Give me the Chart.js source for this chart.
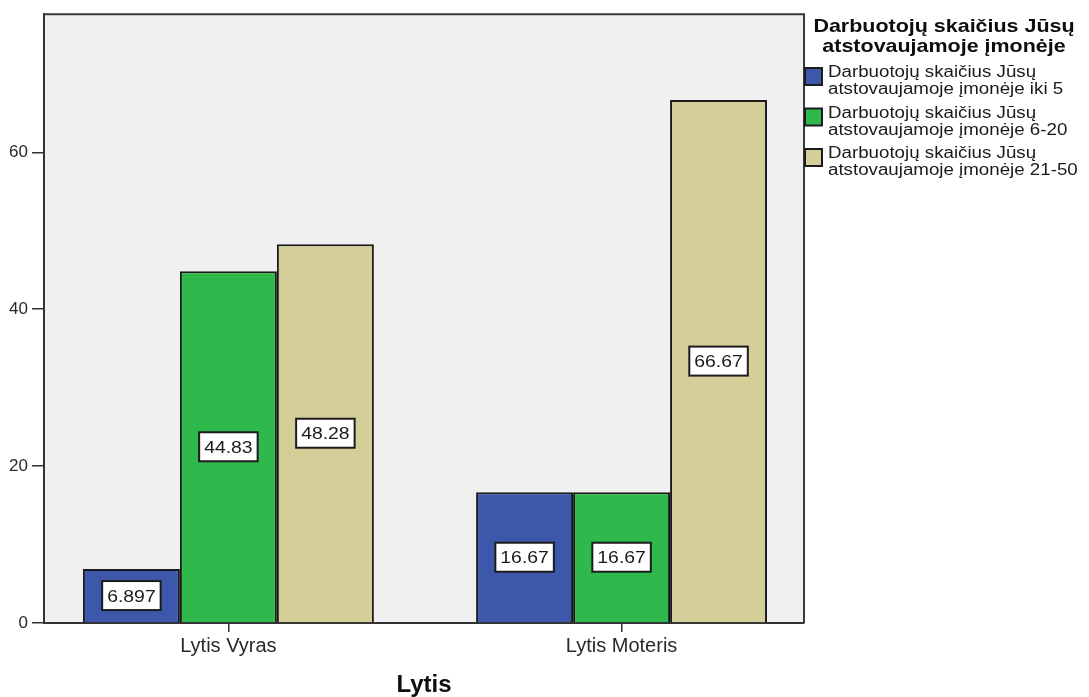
<!DOCTYPE html>
<html lang="lt">
<head>
<meta charset="utf-8">
<title>Lytis</title>
<script src="https://cdn.jsdelivr.net/npm/chart.js@4/dist/chart.umd.min.js"></script>
<style>
  html, body { margin: 0; padding: 0; background: #ffffff; }
  #wrap { width: 1089px; height: 697px; }
</style>
</head>
<body>
<div id="wrap"><canvas id="chart" width="1089" height="697"></canvas></div>
<script>
// Categories (gender) and group values, in percent
const categories = ['Lytis Vyras', 'Lytis Moteris'];
const legendTitle = ['Darbuotojų skaičius Jūsų', 'atstovaujamoje įmonėje'];
const seriesNames = [
  ['Darbuotojų skaičius Jūsų', 'atstovaujamoje įmonėje iki 5'],
  ['Darbuotojų skaičius Jūsų', 'atstovaujamoje įmonėje 6-20'],
  ['Darbuotojų skaičius Jūsų', 'atstovaujamoje įmonėje 21-50']
];
const valuesUpTo5 = [6.897, 16.67];
const values6to20 = [44.83, 16.67];
const values21to50 = [48.28, 66.67];
const seriesColors = ['#3d57aa', '#2fb84b', '#d4cf98'];
const yTicks = [0, 20, 40, 60];
const xAxisTitle = 'Lytis';

const FONT = '"Liberation Sans", Arial, sans-serif';

function toPoints(values) {
  return values.map((v, i) => ({ x: i, y: v }));
}

// Draw text squeezed/stretched horizontally around its anchor
function drawScaledText(ctx, text, x, y, size, weight, sx, align, color) {
  ctx.save();
  ctx.font = weight + ' ' + size + 'px ' + FONT;
  ctx.fillStyle = color;
  ctx.textAlign = align;
  ctx.textBaseline = 'alphabetic';
  ctx.translate(x, y);
  ctx.scale(sx, 1);
  ctx.fillText(text, 0, 0);
  ctx.restore();
}

// Light grey plot background and frame
const plotFrame = {
  id: 'plotFrame',
  beforeDraw(chart) {
    const { ctx, chartArea: a } = chart;
    ctx.save();
    ctx.fillStyle = '#f0f0f0';
    ctx.fillRect(a.left, a.top, a.right - a.left, a.bottom - a.top);
    ctx.restore();
  },
  afterDraw(chart) {
    const { ctx, chartArea: a } = chart;
    ctx.save();
    ctx.strokeStyle = '#3a3a3a';
    ctx.lineWidth = 2;
    ctx.beginPath();
    ctx.moveTo(a.left, a.top);
    ctx.lineTo(a.right, a.top);
    ctx.lineTo(a.right, a.bottom);
    ctx.stroke();
    ctx.restore();
  }
};

// Value boxes in the middle of every bar
const valueBoxes = {
  id: 'valueBoxes',
  afterDatasetsDraw(chart) {
    const ctx = chart.ctx;
    const size = 17, sx = 1.14;
    chart.data.datasets.forEach((ds, di) => {
      const meta = chart.getDatasetMeta(di);
      meta.data.forEach((bar, i) => {
        const text = String(ds.data[i].y);
        ctx.save();
        ctx.font = size + 'px ' + FONT;
        const w = ctx.measureText(text).width * sx + 10;
        const h = 29;
        const cx = bar.x;
        const cy = (bar.y + bar.base) / 2;
        ctx.fillStyle = '#ffffff';
        ctx.fillRect(cx - w / 2, cy - h / 2, w, h);
        ctx.strokeStyle = '#1c1c1c';
        ctx.lineWidth = 2;
        ctx.strokeRect(cx - w / 2, cy - h / 2, w, h);
        ctx.restore();
        drawScaledText(ctx, text, cx, cy + 6, size, 'normal', sx, 'center', '#1a1a1a');
      });
    });
  }
};

// Legend at the right: two-line bold title, then swatches with wrapped names
const sideLegend = {
  id: 'sideLegend',
  afterDraw(chart) {
    const ctx = chart.ctx;
    const cx = 944;
    legendTitle.forEach((line, k) => {
      drawScaledText(ctx, line, cx, 32 + k * 20, 18.5, 'bold', 1.16, 'center', '#0d0d0d');
    });
    chart.data.datasets.forEach((ds, i) => {
      const top = 68 + i * 40.5;
      ctx.save();
      ctx.fillStyle = ds.backgroundColor;
      ctx.fillRect(805, top, 17, 17);
      ctx.strokeStyle = '#1c1c1c';
      ctx.lineWidth = 2;
      ctx.strokeRect(805, top, 17, 17);
      ctx.restore();
      seriesNames[i].forEach((line, k) => {
        drawScaledText(ctx, line, 828, top + 9 + k * 17, 16, 'normal', 1.17, 'left', '#1a1a1a');
      });
    });
  }
};

const datasets = [valuesUpTo5, values6to20, values21to50].map((vals, i) => ({
  label: seriesNames[i].join(' '),
  data: toPoints(vals),
  backgroundColor: seriesColors[i],
  borderColor: '#1a1a1a',
  borderWidth: 2,
  categoryPercentage: 0.74,
  barPercentage: 1.0
}));

new Chart(document.getElementById('chart'), {
  type: 'bar',
  data: { datasets },
  plugins: [plotFrame, valueBoxes, sideLegend],
  options: {
    responsive: false,
    animation: false,
    devicePixelRatio: 1,
    layout: { padding: { top: 13, right: 285, left: 0, bottom: 0 } },
    plugins: {
      legend: { display: false },
      tooltip: { enabled: false }
    },
    scales: {
      x: {
        type: 'linear',
        offset: false,
        min: -0.469,
        max: 1.464,
        afterBuildTicks(scale) {
          scale.ticks = categories.map((_, i) => ({ value: i }));
        },
        afterFit(scale) { scale.height = 74; },
        grid: { offset: false, drawOnChartArea: false, drawTicks: true, tickLength: 9, color: '#333333', lineWidth: 1.5 },
        border: { display: true, color: '#333333', width: 2 },
        ticks: {
          padding: 2,
          color: '#2a2a2a',
          font: { family: FONT, size: 20 },
          maxRotation: 0,
          autoSkip: false,
          callback: (v) => categories[v] !== undefined ? categories[v] : ''
        },
        title: {
          display: true,
          text: xAxisTitle,
          color: '#0d0d0d',
          font: { family: FONT, size: 24, weight: 'bold', lineHeight: 1.0 },
          padding: { top: 0, bottom: 0 }
        }
      },
      y: {
        min: 0,
        max: 77.6,
        afterBuildTicks(scale) {
          scale.ticks = yTicks.map((v) => ({ value: v }));
        },
        afterFit(scale) { scale.width = 44; },
        grid: { drawOnChartArea: false, drawTicks: true, tickLength: 12, color: '#333333', lineWidth: 1.5 },
        border: { display: true, color: '#333333', width: 2 },
        ticks: {
          padding: 4,
          color: '#2a2a2a',
          font: { family: FONT, size: 17 }
        }
      }
    }
  }
});
</script>
</body>
</html>
